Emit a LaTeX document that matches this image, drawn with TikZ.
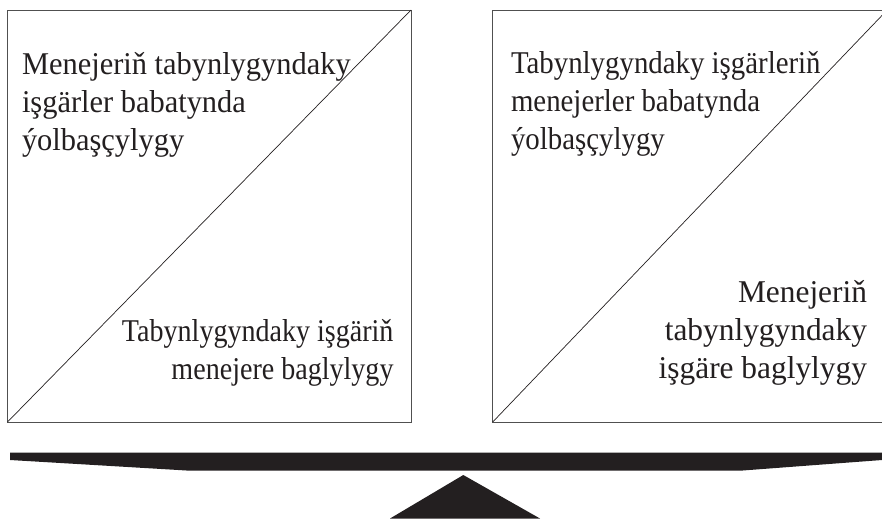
\documentclass[tikz,border=0pt]{standalone}
\usepackage{fontspec}
\setmainfont{Liberation Serif}
% each text in the reference is squeezed by its own amount
\newfontfamily\lefttopfont{Liberation Serif}[FakeStretch=0.96]
\newfontfamily\leftbotfont{Liberation Serif}[FakeStretch=0.885]
\newfontfamily\righttopfont{Liberation Serif}[FakeStretch=0.91]
\newfontfamily\rightbotfont{Liberation Serif}[FakeStretch=0.99]
\usetikzlibrary{positioning,calc}

\definecolor{ink}{RGB}{35,31,32}
\definecolor{frame}{RGB}{80,80,80}

\begin{document}
\begin{tikzpicture}[
	x=1pt, y=-1pt,
	panel/.style={
		draw=frame,
		line width=0.9pt,
		anchor=north west,
		inner sep=0pt,
		outer sep=0pt,
		minimum height=412pt,
	},
	split/.style={draw=ink, line width=0.7pt},
	txt/.style={
		text=ink,
		inner sep=0pt,
		outer sep=0pt,
		font={#1\fontsize{31.7}{37.8}\selectfont},
	},
]
\useasboundingbox (0,0) rectangle (882,520);

\node[panel, minimum width=403.5pt] (leftbox) at (7.5,10) {};
\node[panel, minimum width=394.5pt] (rightbox) at (492.7,10) {};

\draw[split] (leftbox.south west) -- (leftbox.north east);
\draw[split] (rightbox.south west) -- (rightbox.north east);

% texty nad a pod diagonalou (base = posledni radek)
\node[txt=\lefttopfont, anchor=base west, align=left] (lefttop) at (22,150) {
	Menejeriň tabynlygyndaky\\
	işgärler babatynda\\
	ýolbaşçylygy
};
\node[txt=\leftbotfont, anchor=base east, align=right] (leftbot) at (393.5,379) {
	Tabynlygyndaky işgäriň\\
	menejere baglylygy
};
\node[txt=\righttopfont, anchor=base west, align=left] (righttop) at (511,149) {
	Tabynlygyndaky işgärleriň\\
	menejerler babatynda\\
	ýolbaşçylygy
};
\node[txt=\rightbotfont, anchor=base east, align=right] (rightbot) at (867,378) {
	Menejeriň\\
	tabynlygyndaky\\
	işgäre baglylygy
};

% vahadlo a opora
\fill[ink] (10,452.7) -- (882,452.7) -- (882,460) -- (740,470.7)
	-- (190,470.7) -- (10,460) -- cycle;
\fill[ink] (390,518.5) -- (463.3,475) -- (540,518.5) -- cycle;

\end{tikzpicture}
\end{document}
